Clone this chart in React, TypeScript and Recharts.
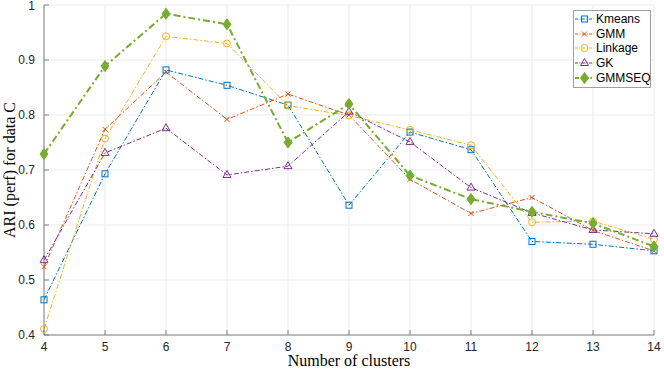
// ARI (perf) vs number of clusters for five clustering methods, MATLAB-style look.
import { CartesianGrid, Line, LineChart, XAxis, YAxis } from 'recharts';

const clusters = [4, 5, 6, 7, 8, 9, 10, 11, 12, 13, 14];
const kmeans = [0.464, 0.693, 0.882, 0.854, 0.818, 0.636, 0.769, 0.737, 0.57, 0.565, 0.553];
const gmm = [0.524, 0.774, 0.878, 0.792, 0.838, 0.8, 0.683, 0.621, 0.65, 0.59, 0.553];
const linkage = [0.411, 0.757, 0.943, 0.93, 0.817, 0.799, 0.773, 0.745, 0.605, 0.607, 0.574];
const gk = [0.536, 0.731, 0.776, 0.691, 0.707, 0.806, 0.751, 0.668, 0.622, 0.591, 0.584];
const gmmseq = [0.729, 0.889, 0.984, 0.965, 0.75, 0.82, 0.69, 0.647, 0.624, 0.603, 0.561];
const yTicks = [0.4, 0.5, 0.6, 0.7, 0.8, 0.9, 1];

type Marker = 'square' | 'x' | 'circle' | 'triangle' | 'diamond';

interface Series {
  name: string;
  color: string;
  marker: Marker;
  width: number;
  dash: string;
}

const series: Series[] = [
  { name: 'Kmeans', color: '#0072BD', marker: 'square', width: 1, dash: '5 2 1.5 2' },
  { name: 'GMM', color: '#D95319', marker: 'x', width: 1, dash: '5 2 1.5 2' },
  { name: 'Linkage', color: '#EDB120', marker: 'circle', width: 1, dash: '5 2 1.5 2' },
  { name: 'GK', color: '#7E2F8E', marker: 'triangle', width: 1, dash: '5 2 1.5 2' },
  { name: 'GMMSEQ', color: '#77AC30', marker: 'diamond', width: 2, dash: '7 3 2 3' },
];

const values: Record<string, number[]> = {
  Kmeans: kmeans,
  GMM: gmm,
  Linkage: linkage,
  GK: gk,
  GMMSEQ: gmmseq,
};

const data = clusters.map((x, i) => {
  const row: Record<string, number> = { x };
  series.forEach((s) => {
    row[s.name] = values[s.name][i];
  });
  return row;
});

function drawMarker(kind: Marker, cx: number, cy: number, color: string, key?: string) {
  switch (kind) {
    case 'square':
      return <rect key={key} x={cx - 3} y={cy - 3} width={6} height={6} fill="none" stroke={color} strokeWidth={1} />;
    case 'x':
      return (
        <g key={key} stroke={color} strokeWidth={1}>
          <line x1={cx - 2.5} y1={cy - 2.5} x2={cx + 2.5} y2={cy + 2.5} />
          <line x1={cx - 2.5} y1={cy + 2.5} x2={cx + 2.5} y2={cy - 2.5} />
        </g>
      );
    case 'circle':
      return <circle key={key} cx={cx} cy={cy} r={3.5} fill="none" stroke={color} strokeWidth={1} />;
    case 'triangle':
      return (
        <polygon
          key={key}
          points={`${cx},${cy - 4.5} ${cx - 4},${cy + 2.5} ${cx + 4},${cy + 2.5}`}
          fill="none"
          stroke={color}
          strokeWidth={1}
        />
      );
    default:
      return (
        <polygon
          key={key}
          points={`${cx},${cy - 5.5} ${cx + 4},${cy} ${cx},${cy + 5.5} ${cx - 4},${cy}`}
          fill={color}
          stroke={color}
          strokeWidth={1}
        />
      );
  }
}

function LegendBox() {
  return (
    <div
      style={{
        position: 'absolute',
        left: 573,
        top: 10,
        border: '1px solid #a0a0a0',
        background: '#fff',
        width: 76,
        padding: '1px 0 2px 0',
        fontFamily: '"Liberation Sans", Arial, sans-serif',
        fontSize: 12,
        lineHeight: '14px',
        color: '#000',
      }}
    >
      {series.map((s) => (
        <div key={s.name} style={{ display: 'flex', alignItems: 'center', height: 14.6 }}>
          <svg width={21} height={14} style={{ flex: 'none' }}>
            <line
              x1={1}
              y1={7}
              x2={20}
              y2={7}
              stroke={s.color}
              strokeWidth={s.width}
              strokeDasharray={s.width > 1 ? '4 2 1.5 2' : '3 1.5 1 1.5'}
            />
            {drawMarker(s.marker, 10.5, 7, s.color)}
          </svg>
          <span style={{ marginLeft: 1 }}>{s.name}</span>
        </div>
      ))}
    </div>
  );
}

const tickStyle = { fontFamily: '"Liberation Sans", Arial, sans-serif', fontSize: 12, fill: '#262626' };
const labelStyle = { fontFamily: '"Liberation Serif", "Times New Roman", serif', fontSize: 16, fill: '#000' };

// nudge the topmost y tick label down a touch so it stays inside the frame
function YTick(props: any) {
  const { x, y, payload, tickFormatter } = props;
  const top = payload.value === 1;
  return (
    <text x={x} y={top ? y + 1 : y} dy="0.355em" textAnchor="end" style={tickStyle}>
      {tickFormatter ? tickFormatter(payload.value) : payload.value}
    </text>
  );
}

export default function App() {
  return (
    <div style={{ position: 'absolute', left: 0, top: 0, width: 664, height: 369, background: '#fff' }}>
      <LineChart width={664} height={369} data={data} margin={{ top: 5, right: 10, bottom: 0, left: 0 }}>
        <CartesianGrid stroke="#ebebeb" strokeWidth={1} />
        <XAxis
          dataKey="x"
          type="number"
          domain={[4, 14]}
          ticks={clusters}
          height={34}
          stroke="#808080"
          tickSize={-5}
          tickMargin={12}
          tick={tickStyle}
          interval={0}
        />
        <YAxis
          type="number"
          domain={[0.4, 1]}
          ticks={yTicks}
          width={44}
          stroke="#808080"
          tickSize={-5}
          tickMargin={14}
          tick={<YTick />}
          interval={0}
          tickFormatter={(v: number) => (v === 1 ? '1' : v.toFixed(1))}
        />
        {series.map((s) => (
          <Line
            key={s.name}
            type="linear"
            dataKey={s.name}
            stroke={s.color}
            strokeWidth={s.width}
            strokeDasharray={s.dash}
            dot={(p: any) => drawMarker(s.marker, p.cx, p.cy, s.color, `${s.name}-${p.index}`)}
            activeDot={false}
            isAnimationActive={false}
          />
        ))}
        <text x={349} y={366} textAnchor="middle" style={labelStyle}>
          Number of clusters
        </text>
        <text x={15} y={170} textAnchor="middle" transform="rotate(-90 15 170)" style={labelStyle}>
          ARI (perf) for data C
        </text>
      </LineChart>
      <LegendBox />
    </div>
  );
}
